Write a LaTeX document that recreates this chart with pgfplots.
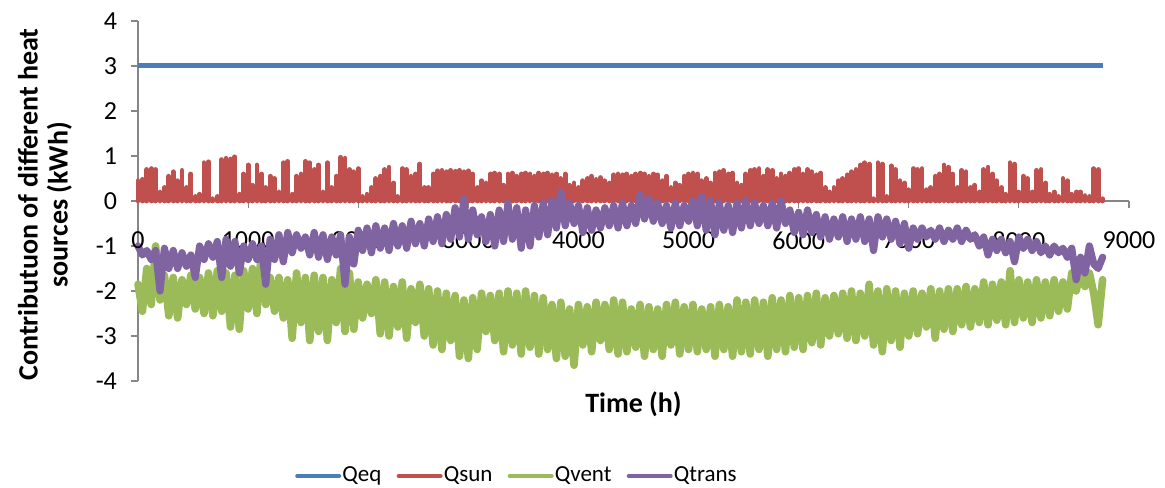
\documentclass[border=0pt]{standalone}
\usepackage{pgfplots}
\pgfplotsset{compat=1.18}
\usepackage{pgfplotstable}
\usepackage{fontspec}
\setmainfont{Carlito}
\definecolor{cEq}{RGB}{74,126,187}
\definecolor{cSun}{RGB}{192,80,77}
\definecolor{cVent}{RGB}{155,187,89}
\definecolor{cTrans}{RGB}{128,100,162}
\definecolor{axgray}{RGB}{134,134,134}
\pgfplotstableread{
t s v q
0 0.45 -1.85 -1.0
40 0.48 -2.45 -1.2
80 0.7 -1.5 -1.1
120 0.72 -2.3 -1.3
160 0.7 -1.0 -1.1
200 0.2 -2.2 -2.0
240 0.3 -1.65 -1.05
280 0.55 -2.55 -1.5
320 0.65 -1.7 -1.1
360 0.45 -2.6 -1.5
400 0.68 -1.75 -1.15
440 0.3 -2.3 -1.45
480 0.6 -1.65 -1.2
520 0.1 -2.4 -1.7
560 0.15 -1.7 -1.0
600 0.85 -2.5 -1.3
640 0.87 -1.6 -0.95
680 0.05 -2.55 -1.25
720 0.1 -1.55 -0.9
760 0.92 -2.45 -1.7
800 0.95 -1.6 -0.85
840 0.93 -2.8 -1.45
880 0.98 -1.65 -0.9
920 0.15 -2.85 -1.6
960 0.6 -1.55 -1.0
1000 0.8 -2.4 -1.3
1040 0.35 -1.5 -0.95
1080 0.8 -2.5 -1.3
1120 0.6 -1.1 -1.0
1160 0.3 -2.3 -1.85
1200 0.55 -1.7 -0.85
1240 0.5 -2.45 -1.3
1280 0.2 -1.7 -0.75
1320 0.85 -2.6 -1.35
1360 0.88 -1.75 -0.7
1400 0.15 -3.05 -1.15
1440 0.55 -1.6 -0.75
1480 0.6 -2.7 -1.05
1520 0.88 -1.7 -0.8
1560 0.85 -3.1 -1.2
1600 0.7 -1.65 -0.7
1640 0.8 -2.9 -1.25
1680 0.2 -1.7 -0.75
1720 0.85 -3.1 -1.3
1760 0.3 -1.75 -0.8
1800 0.55 -2.7 -1.2
1840 0.97 -1.5 -0.75
1880 0.95 -2.9 -1.85
1920 0.7 -1.6 -0.8
1960 0.65 -2.85 -1.4
2000 0.72 -1.8 -0.65
2040 0.1 -2.6 -1.1
2080 0.15 -1.85 -0.6
2120 0.3 -2.5 -1.15
2160 0.5 -1.75 -0.55
2200 0.55 -2.95 -1.05
2240 0.7 -1.8 -0.6
2280 0.75 -3.0 -1.1
2320 0.4 -1.9 -0.5
2360 0.1 -2.8 -1.0
2400 0.72 -1.8 -0.55
2440 0.7 -3.05 -1.05
2480 0.55 -1.95 -0.45
2520 0.6 -2.7 -0.95
2560 0.82 -1.85 -0.5
2600 0.3 -3.0 -1.0
2640 0.3 -1.95 -0.4
2680 0.6 -3.2 -0.9
2720 0.67 -2.0 -0.35
2760 0.68 -3.3 -0.95
2800 0.65 -2.05 -0.3
2840 0.68 -3.1 -0.85
2880 0.66 -2.1 -0.15
2920 0.68 -3.45 -0.8
2960 0.65 -2.2 0.05
3000 0.67 -3.5 -0.85
3040 0.6 -2.15 -0.2
3080 0.3 -3.3 -0.75
3120 0.45 -2.05 -0.35
3160 0.4 -2.9 -0.9
3200 0.6 -2.1 -0.3
3240 0.62 -3.1 -1.0
3280 0.6 -2.05 -0.2
3320 0.35 -3.35 -0.9
3360 0.6 -2.0 -0.05
3400 0.62 -3.2 -0.85
3440 0.55 -2.05 -0.15
3480 0.6 -3.4 -1.05
3520 0.62 -2.0 -0.2
3560 0.6 -3.25 -1.0
3600 0.55 -2.1 -0.1
3640 0.62 -3.4 -0.8
3680 0.6 -2.15 -0.05
3720 0.62 -3.3 -0.75
3760 0.58 -2.3 0.0
3800 0.6 -3.5 -0.6
3840 0.5 -2.25 0.2
3880 0.6 -3.45 -0.55
3920 0.35 -2.4 -0.05
3960 0.4 -3.65 -0.5
4000 0.3 -2.3 -0.1
4040 0.45 -3.2 -0.7
4080 0.5 -2.35 -0.15
4120 0.55 -3.35 -0.65
4160 0.48 -2.25 -0.2
4200 0.52 -3.1 -0.6
4240 0.45 -2.3 -0.15
4280 0.4 -3.3 -0.55
4320 0.58 -2.2 -0.1
4360 0.6 -3.4 -0.6
4400 0.58 -2.25 -0.05
4440 0.6 -3.35 -0.55
4480 0.55 -2.4 -0.1
4520 0.6 -3.25 -0.5
4560 0.62 -2.3 0.15
4600 0.6 -3.45 -0.4
4640 0.55 -2.35 0.05
4680 0.6 -3.3 -0.45
4720 0.58 -2.4 -0.05
4760 0.45 -3.45 -0.5
4800 0.55 -2.3 -0.1
4840 0.3 -3.2 -0.6
4880 0.4 -2.25 -0.05
4920 0.35 -3.4 -0.55
4960 0.55 -2.35 -0.1
5000 0.6 -3.3 -0.45
5040 0.62 -2.3 0.0
5080 0.6 -3.35 -0.55
5120 0.45 -2.4 0.1
5160 0.5 -3.3 -0.65
5200 0.4 -2.35 0.0
5240 0.62 -3.45 -0.75
5280 0.65 -2.3 -0.05
5320 0.68 -3.3 -0.65
5360 0.6 -2.35 -0.1
5400 0.62 -3.45 -0.7
5440 0.4 -2.2 -0.05
5480 0.35 -3.35 -0.6
5520 0.6 -2.25 0.0
5560 0.68 -3.4 -0.55
5600 0.7 -2.2 -0.05
5640 0.72 -3.3 -0.5
5680 0.55 -2.25 -0.1
5720 0.7 -3.45 -0.55
5760 0.68 -2.15 -0.05
5800 0.5 -3.3 -0.6
5840 0.6 -2.2 0.0
5880 0.55 -3.35 -0.5
5920 0.62 -2.1 -0.2
5960 0.7 -3.25 -0.7
6000 0.72 -2.15 -0.25
6040 0.6 -3.3 -0.75
6080 0.7 -2.1 -0.2
6120 0.65 -3.15 -0.7
6160 0.58 -2.05 -0.3
6200 0.62 -3.2 -0.8
6240 0.3 -2.15 -0.35
6280 0.2 -3.0 -0.85
6320 0.3 -2.1 -0.4
6360 0.45 -2.95 -0.8
6400 0.5 -2.05 -0.35
6440 0.58 -3.05 -0.9
6480 0.65 -2.0 -0.4
6520 0.7 -3.1 -0.85
6560 0.8 -2.05 -0.35
6600 0.85 -3.0 -0.9
6640 0.82 -1.85 -0.4
6680 0.05 -3.2 -1.1
6720 0.85 -2.0 -0.35
6760 0.82 -3.35 -0.8
6800 0.1 -1.95 -0.4
6840 0.78 -3.1 -0.85
6880 0.7 -2.0 -0.45
6920 0.45 -3.25 -0.95
6960 0.4 -2.05 -0.5
7000 0.25 -3.0 -1.05
7040 0.72 -2.0 -0.6
7080 0.7 -2.95 -0.85
7120 0.72 -2.05 -0.6
7160 0.25 -2.8 -0.8
7200 0.3 -1.95 -0.65
7240 0.55 -3.05 -0.85
7280 0.6 -2.0 -0.6
7320 0.8 -2.85 -0.9
7360 0.75 -1.95 -0.65
7400 0.6 -2.9 -0.85
7440 0.3 -1.95 -0.6
7480 0.68 -2.75 -0.9
7520 0.65 -1.9 -0.65
7560 0.3 -2.8 -0.85
7600 0.35 -1.95 -0.75
7640 0.2 -2.7 -1.0
7680 0.7 -1.8 -0.8
7720 0.75 -2.75 -1.2
7760 0.6 -1.85 -0.85
7800 0.45 -2.65 -1.1
7840 0.3 -1.8 -0.85
7880 0.15 -2.75 -1.15
7920 0.85 -1.55 -0.9
7960 0.82 -2.7 -1.35
8000 0.2 -1.75 -0.8
8040 0.55 -2.6 -1.05
8080 0.5 -1.8 -0.85
8120 0.2 -2.7 -1.1
8160 0.68 -1.75 -0.9
8200 0.7 -2.6 -1.15
8240 0.4 -1.8 -1.0
8280 0.15 -2.55 -1.2
8320 0.2 -1.75 -1.0
8360 0.1 -2.45 -1.15
8400 0.5 -1.8 -1.05
8440 0.45 -2.4 -1.25
8480 0.15 -1.6 -1.05
8520 0.2 -2.0 -1.75
8560 0.2 -1.55 -1.25
8600 0.12 -1.9 -1.6
8640 0.1 -1.6 -1.0
8680 0.72 -2.05 -1.4
8720 0.7 -2.75 -1.5
8760 0.05 -1.75 -1.25
}\data
\begin{document}
\begin{tikzpicture}
\begin{axis}[name=ax, scale only axis, width=495.5pt, height=180pt,
  xmin=0, xmax=9000, ymin=-4, ymax=4,
  axis x line=middle, axis y line=left,
  axis line style={-, draw=axgray, line width=0.6pt},
  xtick={0,1000,...,9000}, ytick={-4,-3,...,4},
  tick align=outside, major tick length=3.5pt,
  tick style={draw=axgray, line width=0.6pt},
  scaled x ticks=false,
  /pgf/number format/assume math mode=true,
  /pgf/number format/1000 sep={},
  tick label style={font=\fontsize{13}{15}\selectfont, text=black},
  xticklabel style={yshift=-8.5pt},
  yticklabel style={xshift=-3.5pt},
  xlabel={Time (h)},
  ylabel={Contributuon of different heat\\sources (kWh)},
  xlabel style={at={(axis description cs:0.5,-0.064)}, anchor=center, font=\bfseries\fontsize{14}{15}\selectfont},
  ylabel style={at={(axis description cs:-0.094,0.49)}, anchor=center, align=center, font=\bfseries\fontsize{14}{15}\selectfont},
  legend style={at={(axis description cs:0.382,-0.264)}, anchor=center, draw=none, legend columns=-1,
    font=\fontsize{11.5}{14}\selectfont, inner sep=0pt, nodes={inner sep=0.6pt},
    /tikz/every even column/.append style={column sep=7pt}},
  legend image code/.code={\draw[#1, line cap=round, line width=2pt] (0pt,0pt) -- (21pt,0pt);},
  clip=false,
]
\addplot[cEq, line width=2.5pt] coordinates {(0,3) (8760,3)};
\addlegendentry{Qeq}
\addplot[cSun, line width=2.4pt, ycomb, line cap=round,
  legend image code/.code={\draw[cSun, line cap=round, line width=2pt] (0pt,0pt) -- (21pt,0pt);}]
  table[x=t, y=s] {\data};
\addlegendentry{Qsun}
\addplot[cVent, line width=3.8pt, line join=round, line cap=round] table[x=t, y=v] {\data};
\addlegendentry{Qvent}
\addplot[cTrans, line width=3.6pt, line join=round, line cap=round] table[x=t, y=q] {\data};
\addlegendentry{Qtrans}
\node[anchor=north, font=\fontsize{13}{15}\selectfont, inner sep=0.3333em] at (axis cs:0,0) [yshift=-12pt] {0};
\end{axis}
\pgfresetboundingbox
\path ([shift={(-69pt,-53.5pt)}]ax.south west) rectangle ([shift={(18pt,10.5pt)}]ax.north east);
\end{tikzpicture}
\end{document}
